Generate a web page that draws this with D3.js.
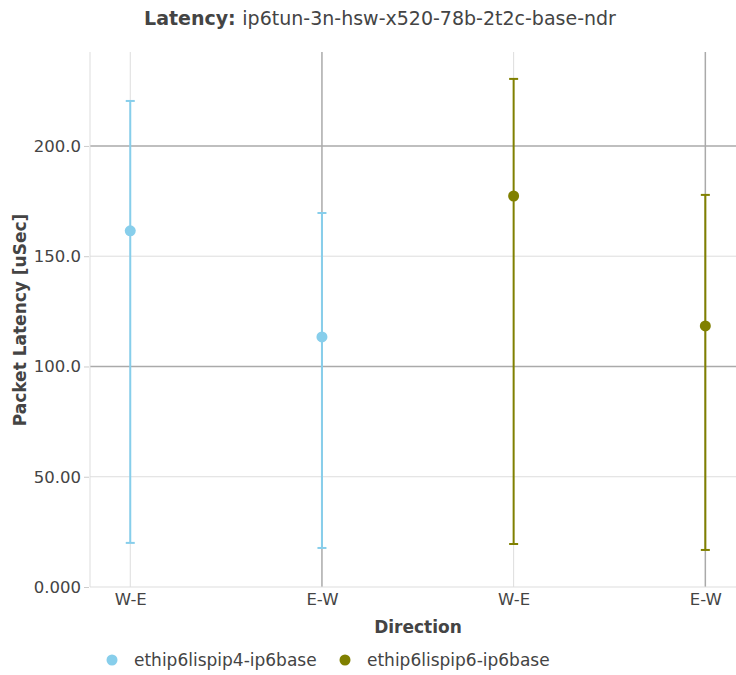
<!DOCTYPE html>
<html><head><meta charset="utf-8">
<script src="https://cdn.jsdelivr.net/npm/d3@7"></script>
<style>body{margin:0;background:#fff;}svg{font-family:"DejaVu Sans",sans-serif;}</style>
</head><body><div id="c"></div>
<script>
const categories = ["W-E","E-W","W-E","E-W"];
const seriesNames = ["ethip6lispip4-ip6base","ethip6lispip6-ip6base"];
const seriesColors = ["#87ceeb","#808000"];
const meanValues = [161.5, 113.4, 177.3, 118.4];
const upperValues = [220.4, 169.6, 230.4, 177.8];
const lowerValues = [20.0, 17.7, 19.5, 16.8];
const seriesIndex = [0, 0, 1, 1];
const yTicks = [0, 50, 100, 150, 200];
const yTickLabels = ["0.000","50.00","100.0","150.0","200.0"];

(function(){
const W = 736, H = 675;
const svg = d3.select("#c").append("svg").attr("width", W).attr("height", H);
const pL = 90, pR = 736, pT = 52, pB = 587;
const x = d3.scaleLinear().domain([-0.21, 3.16]).range([pL, pR]);
const y = d3.scaleLinear().domain([0, 242.6]).range([pB, pT]);

// horizontal grid
yTicks.forEach(t => {
  if (t === 0) return;
  const dark = t % 100 === 0;
  svg.append("line").attr("x1", pL).attr("x2", pR).attr("y1", y(t)).attr("y2", y(t))
    .attr("stroke", dark ? "#aaaaaa" : "#dddddd").attr("stroke-width", dark ? 1.5 : 1);
});
// vertical grid
categories.forEach((c, i) => {
  const dark = i % 2 === 1;
  svg.append("line").attr("x1", x(i)).attr("x2", x(i)).attr("y1", pT).attr("y2", pB)
    .attr("stroke", dark ? "#aaaaaa" : "#dddddd").attr("stroke-width", dark ? 1.5 : 1);
});
// frame lines
svg.append("line").attr("x1", pL).attr("x2", pL).attr("y1", pT).attr("y2", pB).attr("stroke", "#dddddd");
svg.append("line").attr("x1", pL).attr("x2", pR).attr("y1", pB).attr("y2", pB).attr("stroke", "#dddddd");

// y axis
const yAxis = d3.axisLeft(y).tickValues(yTicks).tickFormat((d, i) => yTickLabels[i]).tickSize(5).tickPadding(3);
const ga = svg.append("g").attr("transform", `translate(${pL - 1},0)`).call(yAxis);
ga.select(".domain").remove();
ga.selectAll(".tick line").attr("stroke", "#cccccc");
ga.selectAll("text").attr("fill", "#444").style("font-size", "16.5px").style("font-family", "DejaVu Sans");

// x axis
const xAxis = d3.axisBottom(x).tickValues(d3.range(categories.length)).tickFormat(i => categories[i]).tickSize(0).tickPadding(6);
const gx = svg.append("g").attr("transform", `translate(0,${pB})`).call(xAxis);
gx.select(".domain").remove();
gx.selectAll("text").attr("fill", "#444").style("font-size", "16.5px").style("font-family", "DejaVu Sans");

// error bars & markers
const capHalf = 4.5;
categories.forEach((c, i) => {
  const col = seriesColors[seriesIndex[i]];
  const g = svg.append("g");
  g.append("line").attr("x1", x(i)).attr("x2", x(i)).attr("y1", y(lowerValues[i])).attr("y2", y(upperValues[i]))
    .attr("stroke", col).attr("stroke-width", 2);
  [lowerValues[i], upperValues[i]].forEach(v => {
    g.append("line").attr("x1", x(i) - capHalf).attr("x2", x(i) + capHalf).attr("y1", y(v)).attr("y2", y(v))
      .attr("stroke", col).attr("stroke-width", 2);
  });
  g.append("circle").attr("cx", x(i)).attr("cy", y(meanValues[i])).attr("r", 5.5).attr("fill", col);
});

// title
const title = svg.append("text").attr("x", 380).attr("y", 25).attr("text-anchor", "middle")
  .attr("fill", "#444").style("font-size", "19px");
title.append("tspan").attr("font-weight", "bold").text("Latency: ");
title.append("tspan").text("ip6tun-3n-hsw-x520-78b-2t2c-base-ndr");

// axis titles
svg.append("text").attr("x", 418).attr("y", 633).attr("text-anchor", "middle").attr("fill", "#444")
  .attr("font-weight", "bold").style("font-size", "17px").text("Direction");
svg.append("text").attr("transform", "translate(26,320) rotate(-90)").attr("text-anchor", "middle").attr("fill", "#444")
  .attr("font-weight", "bold").style("font-size", "17px").text("Packet Latency [uSec]");

// legend
const legX = [112, 345];
seriesNames.forEach((n, i) => {
  svg.append("circle").attr("cx", legX[i]).attr("cy", 660).attr("r", 5.5).attr("fill", seriesColors[i]);
  svg.append("text").attr("x", legX[i] + 22).attr("y", 666).attr("fill", "#444").style("font-size", "17px").text(n);
});
})();
</script></body></html>
